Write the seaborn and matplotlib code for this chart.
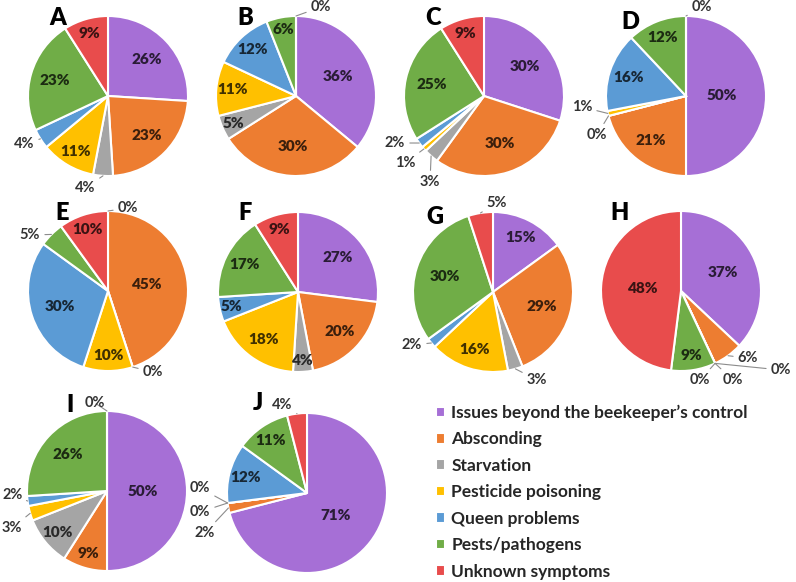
import numpy as np
import matplotlib
matplotlib.use("Agg")
import matplotlib.pyplot as plt
import seaborn as sns

sns.set_theme(style="white")
plt.rcParams['font.family'] = ['Lato', 'DejaVu Sans']

# Causes of colony loss, one pie per panel (percent)
categories = ["Issues beyond the beekeeper\u2019s control", "Absconding", "Starvation",
              "Pesticide poisoning", "Queen problems", "Pests/pathogens", "Unknown symptoms"]
panels = ["A", "B", "C", "D", "E", "F", "G", "H", "I", "J"]
vals_A = [26, 23, 4, 11, 4, 23, 9]
vals_B = [36, 30, 5, 11, 12, 6, 0]
vals_C = [30, 30, 3, 1, 2, 25, 9]
vals_D = [50, 21, 0, 1, 16, 12, 0]
vals_E = [0, 45, 0, 10, 30, 5, 10]
vals_F = [27, 20, 4, 18, 5, 17, 9]
vals_G = [15, 29, 3, 16, 2, 30, 5]
vals_H = [37, 6, 0, 0, 0, 9, 48]
vals_I = [50, 9, 10, 3, 2, 26, 0]
vals_J = [71, 2, 0, 0, 12, 11, 4]
values = [vals_A, vals_B, vals_C, vals_D, vals_E, vals_F, vals_G, vals_H, vals_I, vals_J]

colors = sns.color_palette(["#A66FD6", "#ED7D31", "#A5A5A5", "#FFC000",
                            "#5B9BD5", "#70AD47", "#E84C4C"])

# layout in pixels (image coords, y down)
W, H = 796, 582
centers = {"A": (108, 96), "B": (296, 96), "C": (484, 96), "D": (686, 96),
           "E": (108, 291), "F": (298, 292), "G": (493, 292), "H": (681, 291),
           "I": (107, 491), "J": (307, 493)}
radius = 80
letter_pos = {"A": (58, 18), "B": (245, 18), "C": (433, 18), "D": (630, 22),
              "E": (62, 213), "F": (245, 213), "G": (435, 217), "H": (620, 213),
              "I": (70, 405), "J": (258, 403)}
# small slices labelled outside: (panel, category index) -> text position
outside = {
    ("A", 2): (85, 188), ("A", 4): (24, 144),
    ("B", 6): (321, 7),
    ("C", 4): (395, 143), ("C", 3): (405, 163), ("C", 2): (430, 182),
    ("D", 2): (597, 135), ("D", 3): (582, 107), ("D", 6): (702, 7),
    ("E", 0): (128, 208), ("E", 2): (153, 372), ("E", 5): (30, 235),
    ("G", 6): (497, 203), ("G", 4): (412, 345), ("G", 2): (537, 380),
    ("H", 1): (748, 358), ("H", 2): (781, 370), ("H", 3): (733, 380), ("H", 4): (700, 380),
    ("I", 6): (95, 403), ("I", 4): (13, 495), ("I", 3): (12, 528),
    ("J", 6): (282, 405), ("J", 3): (200, 488), ("J", 2): (200, 512), ("J", 1): (205, 533),
}

fig = plt.figure(figsize=(W / 100, H / 100), dpi=100)
ax = fig.add_axes([0, 0, 1, 1])

legend_handles = None
for p, vals in zip(panels, values):
    cx, cy = centers[p]
    cy = H - cy
    wedges, _ = ax.pie(vals, colors=colors, startangle=90, counterclock=False,
                       radius=radius, center=(cx, cy),
                       wedgeprops=dict(edgecolor="white", linewidth=1.5))
    if legend_handles is None:
        legend_handles = wedges
    for i, (w, v) in enumerate(zip(wedges, vals)):
        ang = np.deg2rad((w.theta1 + w.theta2) / 2)
        if (p, i) in outside:
            tx, ty = outside[(p, i)]
            ex, ey = cx + radius * np.cos(ang), cy + radius * np.sin(ang)
            ax.annotate(f"{v}%", xy=(ex, ey), xytext=(tx, H - ty), ha="center", va="center",
                        fontsize=10.5, fontweight="bold", color="#333333",
                        arrowprops=dict(arrowstyle="-", color="#8c8c8c", lw=0.8,
                                        shrinkA=1, shrinkB=0))
        else:
            d = max(0.45, 0.9 - 0.009 * v) * radius
            dark = tuple(c * 0.25 for c in colors[i])
            ax.text(cx + d * np.cos(ang), cy + d * np.sin(ang), f"{v}%",
                    ha="center", va="center", fontsize=11, fontweight="heavy", color=dark)
    lx, ly = letter_pos[p]
    ax.text(lx, H - ly, p, ha="center", va="center", fontsize=17, fontweight="heavy",
            color="black")

ax.set_xlim(0, W)
ax.set_ylim(0, H)
ax.set_aspect("equal")
ax.axis("off")

fig.legend(legend_handles, categories, loc="upper left",
           bbox_to_anchor=(427 / W, 1 - 396 / H), frameon=False,
           handlelength=0.55, handleheight=0.55, handletextpad=0.35,
           labelspacing=0.6, borderpad=0, prop=dict(weight="bold", size=12.5))

fig.savefig("out.png", dpi=100, facecolor="white")
